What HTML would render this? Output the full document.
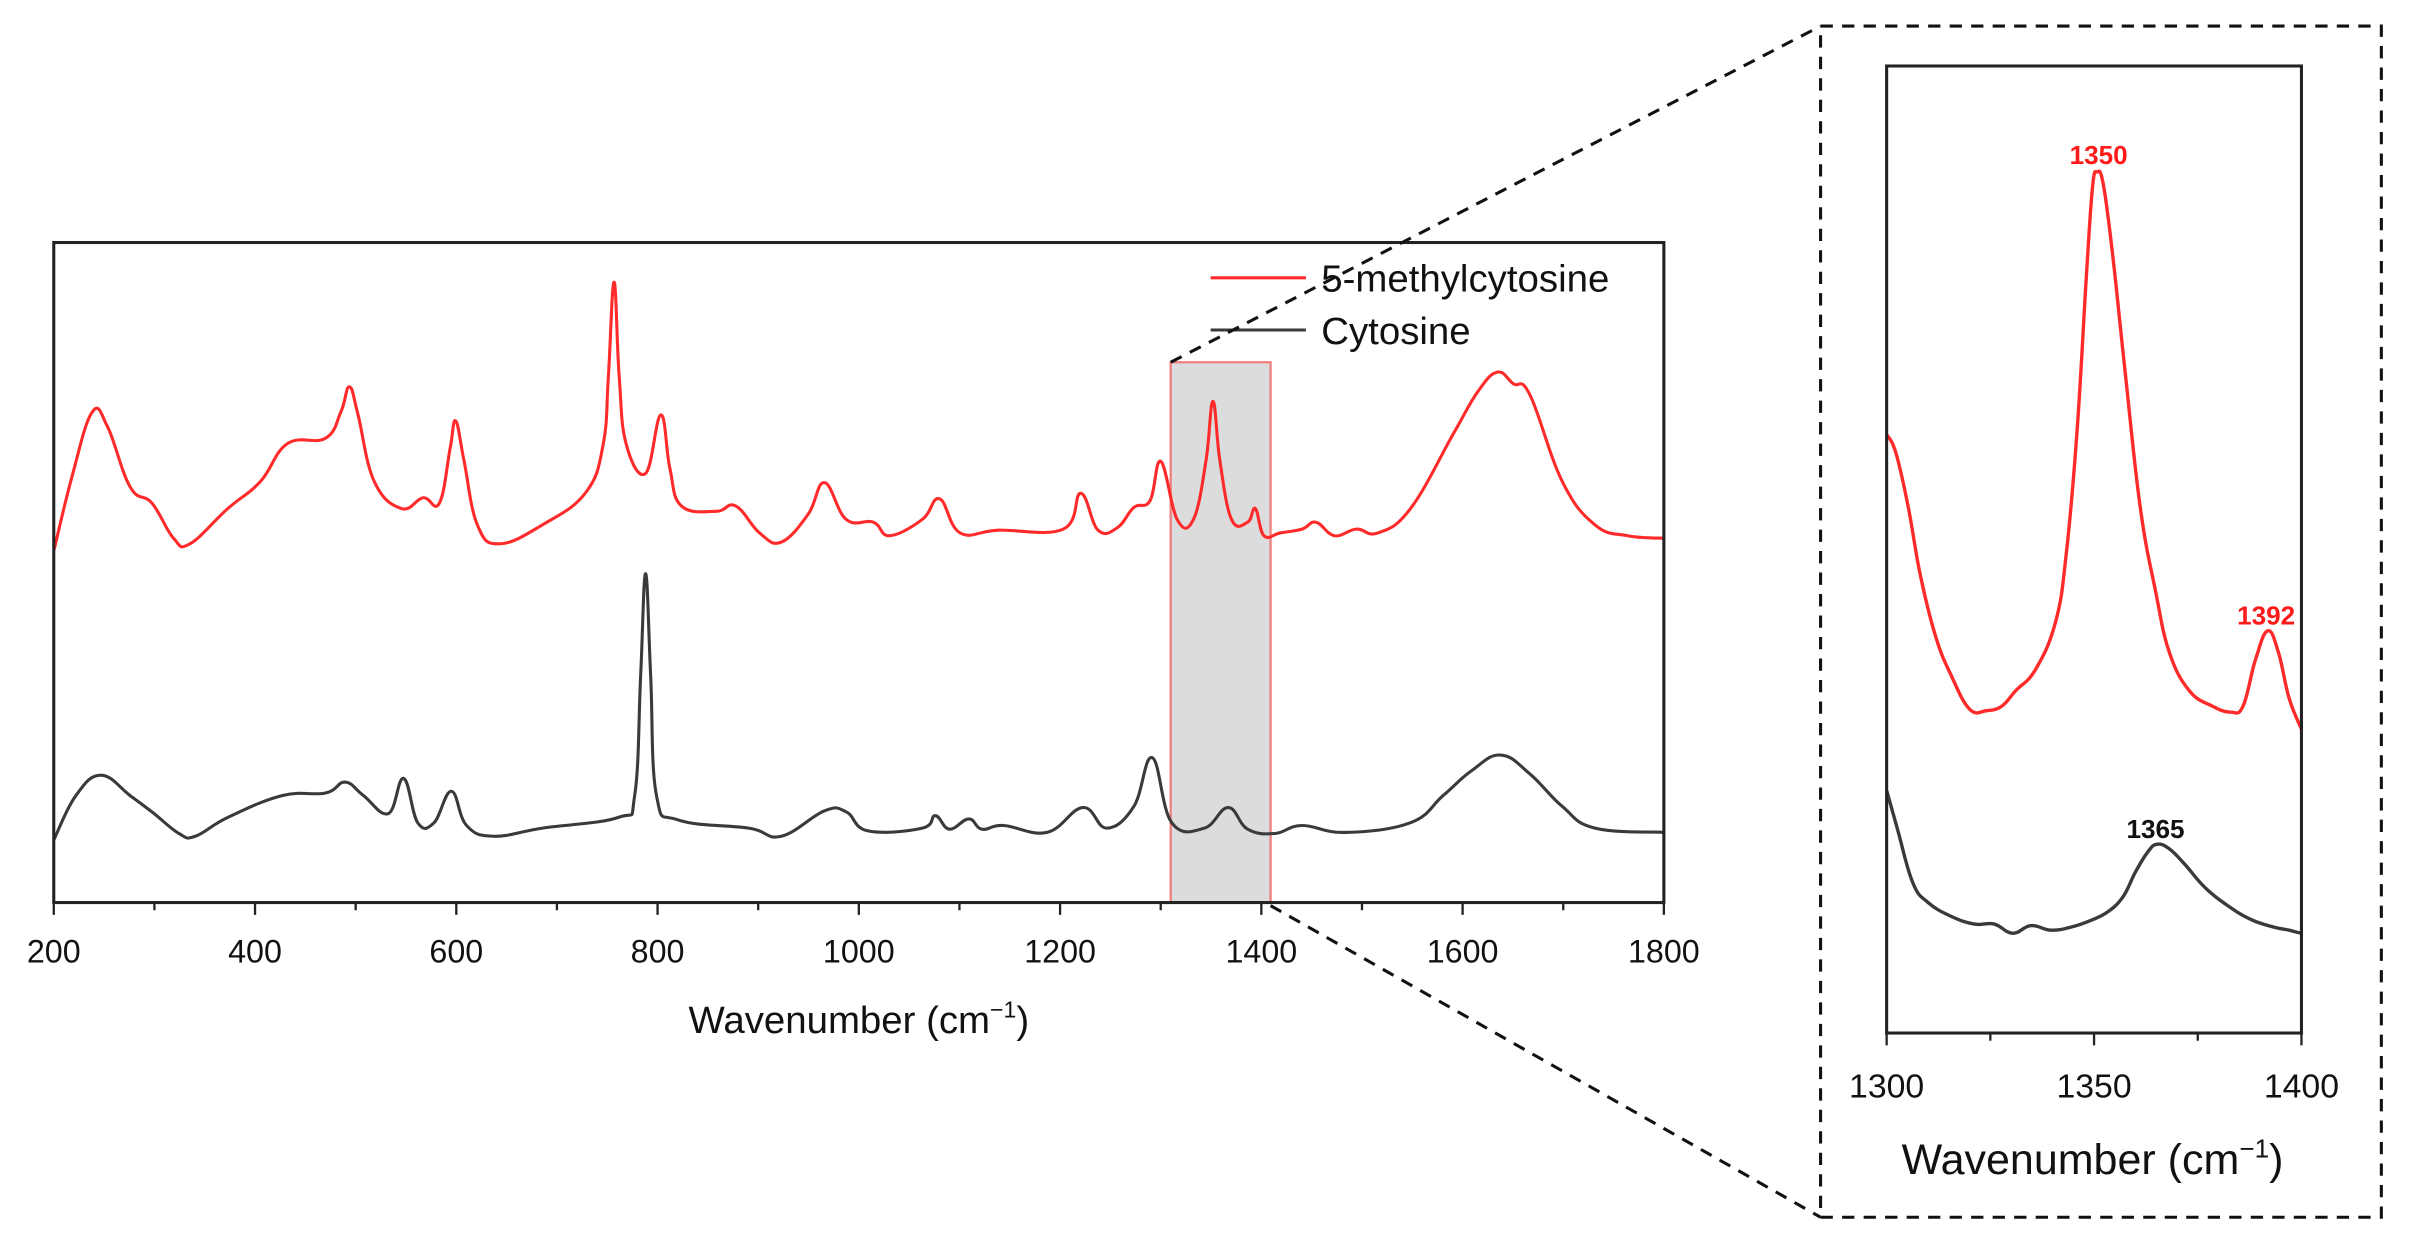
<!DOCTYPE html>
<html><head><meta charset="utf-8"><style>
html,body{margin:0;padding:0;background:#fff;}
svg{display:block;}
text{font-family:"Liberation Sans",Arial,sans-serif;}
</style></head><body>
<svg id="sv" width="2409" height="1251" viewBox="0 0 1568 815" preserveAspectRatio="none" xmlns="http://www.w3.org/2000/svg">
<rect x="0" y="0" width="1568" height="815" fill="#fff"/>
<defs><clipPath id="ic"><rect x="1228" y="43" width="270" height="630"/></clipPath></defs>
<rect x="762" y="236" width="65" height="352" fill="#dcdcdc" stroke="#f08080" stroke-width="1.5"/>
<polyline class="s" fill="none" stroke="#ff2a2a" stroke-width="2" stroke-linejoin="round" points="35.3,357.8 47,310 60,268.5 70,278 84.7,317.2 98.9,327.8 113,350.7 123.6,354.3 148.3,331.3 169.5,313.7 187.1,289 211.9,285.5 222,268 227.4,252 233,270 243.6,313.7 261.3,331.3 275.4,324.3 286,327.8 293,292 296.6,274.2 302,300 310.7,341.9 324.9,354.3 353.1,341.9 381.4,320.7 392.7,289 396,245 399.7,183.8 403,245 407.5,289 420.2,308.4 430.1,270.3 436,305 443.5,329.6 466.1,333.1 478.8,329.6 494.4,347.2 508.5,353.2 526.1,334.9 536.7,314.4 550.8,338.4 568.5,340.2 579.1,349 600.3,338.4 611.6,325 625,347.2 649.7,345.4 692.1,344.7 703.4,321.4 714.7,345.4 727.4,343.7 738,330.6 748.6,326.1 755.6,300.6 766.2,338.4 776.8,338.4 785,300 789.5,261.5 794,300 801.6,338.4 812.1,340.2 817.1,331.3 822.7,349 833.3,347.2 847.5,344.7 856.6,340.2 868.6,349 882.8,344.7 896.9,347.2 918.1,331.3 946.3,282 962,255 974.6,242.4 985,250 995.8,257.2 1016.9,313.7 1038.1,341.9 1059.3,349 1084,350.7"/>
<polyline class="s" fill="none" stroke="#3a3a3a" stroke-width="2" stroke-linejoin="round" points="35.3,546.6 49.4,518.3 65.7,505 84.7,518.3 98.9,528.9 116.5,543 127.1,544.8 148.3,532.5 183.6,518.3 211.9,516.6 224.6,509.5 236.6,518.3 252.8,530 262.7,507.1 271.9,536 282.5,536 293.8,515.5 303.7,537.8 321.3,544.8 353.1,539.5 402.5,532.5 413.1,518.3 417,440 420.2,373.7 423.5,440 427.3,518.3 441.4,534.2 487.3,539.5 508.5,544.8 536.7,528.2 550.8,528.9 565,541.3 600.3,539.5 608.8,531.4 618,540.2 630.6,533.5 639.1,540.2 653.2,537.8 681.5,542.3 704.8,526.1 720.3,539.5 738,525.4 750,493.6 762.7,536 783.9,539.5 799.4,526.1 812.1,540.2 829.8,543 847.5,537.8 875.7,542.3 918.1,536 939.3,518.3 958,502 976.7,491.9 995.8,504.2 1016.9,525.4 1038.1,539.5 1084,542.3"/>
<rect x="35" y="158" width="1048" height="430" fill="none" stroke="#222" stroke-width="2"/>
<g stroke="#222" stroke-width="1.5">
<line x1="35" y1="588" x2="35" y2="596"/><line x1="100.5" y1="588" x2="100.5" y2="593"/>
<line x1="166" y1="588" x2="166" y2="596"/><line x1="231.5" y1="588" x2="231.5" y2="593"/>
<line x1="297" y1="588" x2="297" y2="596"/><line x1="362.5" y1="588" x2="362.5" y2="593"/>
<line x1="428" y1="588" x2="428" y2="596"/><line x1="493.5" y1="588" x2="493.5" y2="593"/>
<line x1="559" y1="588" x2="559" y2="596"/><line x1="624.5" y1="588" x2="624.5" y2="593"/>
<line x1="690" y1="588" x2="690" y2="596"/><line x1="755.5" y1="588" x2="755.5" y2="593"/>
<line x1="821" y1="588" x2="821" y2="596"/><line x1="886.5" y1="588" x2="886.5" y2="593"/>
<line x1="952" y1="588" x2="952" y2="596"/><line x1="1017.5" y1="588" x2="1017.5" y2="593"/>
<line x1="1083" y1="588" x2="1083" y2="596"/>
</g>
<g font-size="21" fill="#111" text-anchor="middle">
<text x="35" y="627">200</text><text x="166" y="627">400</text><text x="297" y="627">600</text>
<text x="428" y="627">800</text><text x="559" y="627">1000</text><text x="690" y="627">1200</text>
<text x="821" y="627">1400</text><text x="952" y="627">1600</text><text x="1083" y="627">1800</text>
</g>
<text x="559" y="673" font-size="25" fill="#111" text-anchor="middle">Wavenumber (cm<tspan dy="-10" font-size="15">−1</tspan><tspan dy="10">)</tspan></text>
<line x1="788" y1="181" x2="850" y2="181" stroke="#ff2a2a" stroke-width="2"/>
<text x="860" y="190" font-size="25" fill="#111">5-methylcytosine</text>
<line x1="788" y1="215" x2="850" y2="215" stroke="#3a3a3a" stroke-width="2"/>
<text x="860" y="224" font-size="25" fill="#111">Cytosine</text>
<g stroke="#111" stroke-width="2" stroke-dasharray="8,6" fill="none">
<line x1="762" y1="236" x2="1185" y2="17"/>
<line x1="827" y1="590" x2="1185" y2="793"/>
<rect x="1185" y="17" width="365" height="776"/>
</g>
<polyline class="s" fill="none" stroke="#ff2a2a" stroke-width="2.2" stroke-linejoin="round" points="1228,283 1234,295 1242,330 1250,375 1260,415 1270,440 1282,462 1293,463 1303,460 1312,450 1325,436 1338,405 1345,360 1352,280 1358,180 1362,122 1365,112 1369,120 1375,165 1383,240 1393,330 1403,385 1412,425 1425,450 1440,460 1452,464 1460,460 1468,430 1476,411 1483,425 1490,455 1498,475"/>
<polyline class="s" fill="none" stroke="#3a3a3a" stroke-width="2.2" stroke-linejoin="round" clip-path="url(#ic)" points="1228,515 1235,540 1245,575 1255,588 1270,597 1285,602 1298,602 1310,608 1322,603 1335,606 1348,604 1360,600 1372,594 1382,584 1390,568 1398,555 1404,550 1412,553 1422,563 1435,578 1450,590 1465,599 1480,604 1490,606 1498,608 1510,610"/>
<rect x="1228" y="43" width="270" height="630" fill="none" stroke="#222" stroke-width="2"/>
<g stroke="#222" stroke-width="1.5">
<line x1="1228" y1="673" x2="1228" y2="681"/><line x1="1295.5" y1="673" x2="1295.5" y2="678"/>
<line x1="1363" y1="673" x2="1363" y2="681"/><line x1="1430.5" y1="673" x2="1430.5" y2="678"/>
<line x1="1498" y1="673" x2="1498" y2="681"/>
</g>
<g font-size="22" fill="#111" text-anchor="middle">
<text x="1228" y="715">1300</text><text x="1363" y="715">1350</text><text x="1498" y="715">1400</text>
</g>
<text x="1362" y="765" font-size="28" fill="#111" text-anchor="middle">Wavenumber (cm<tspan dy="-11" font-size="17">−1</tspan><tspan dy="11">)</tspan></text>
<text x="1366" y="107" font-size="17" font-weight="bold" fill="#ff1a1a" text-anchor="middle">1350</text>
<text x="1475" y="407" font-size="17" font-weight="bold" fill="#ff1a1a" text-anchor="middle">1392</text>
<text x="1403" y="546" font-size="17" font-weight="bold" fill="#111" text-anchor="middle">1365</text>
</svg>
<script>
document.querySelectorAll('polyline.s').forEach(function(pl){
  var pts=pl.getAttribute('points').trim().split(/\s+/).map(function(s){return s.split(',').map(Number);});
  var d='M'+pts[0][0]+','+pts[0][1];
  for(var i=0;i<pts.length-1;i++){
    var p0=pts[Math.max(0,i-1)],p1=pts[i],p2=pts[i+1],p3=pts[Math.min(pts.length-1,i+2)];
    var t=0.2;
    var c1x=p1[0]+(p2[0]-p0[0])*t,c1y=p1[1]+(p2[1]-p0[1])*t;
    var c2x=p2[0]-(p3[0]-p1[0])*t,c2y=p2[1]-(p3[1]-p1[1])*t;
    d+=' C'+c1x.toFixed(1)+','+c1y.toFixed(1)+' '+c2x.toFixed(1)+','+c2y.toFixed(1)+' '+p2[0]+','+p2[1];
  }
  var p=document.createElementNS('http://www.w3.org/2000/svg','path');
  ['fill','stroke','stroke-width','stroke-linejoin','clip-path'].forEach(function(a){if(pl.getAttribute(a))p.setAttribute(a,pl.getAttribute(a));});
  p.setAttribute('d',d);
  pl.parentNode.replaceChild(p,pl);
});
</script>
</body></html>
